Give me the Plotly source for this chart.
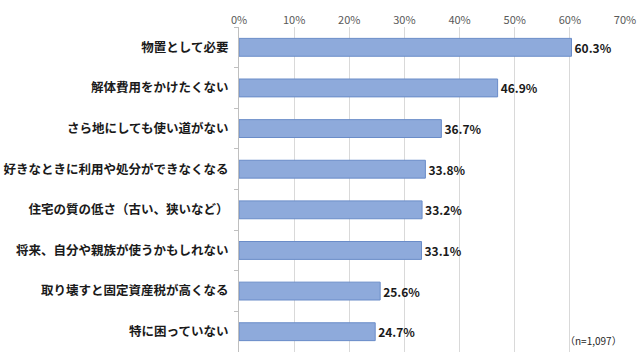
import plotly.graph_objects as go

categories = ["物置として必要", "解体費用をかけたくない", "さら地にしても使い道がない",
              "好きなときに利用や処分ができなくなる", "住宅の質の低さ（古い、狭いなど）",
              "将来、自分や親族が使うかもしれない", "取り壊すと固定資産税が高くなる", "特に困っていない"]
values = [60.3, 46.9, 36.7, 33.8, 33.2, 33.1, 25.6, 24.7]
x_ticks = [0, 10, 20, 30, 40, 50, 60, 70]
x_tick_labels = [f"{t}%" for t in x_ticks]
note = "（n=1,097）"

L, R, T, B = 239, 15, 27, 8

fig = go.Figure(go.Bar(
    y=categories, x=values, orientation="h",
    marker=dict(color="#8eaadb", line=dict(color="#6a8cc8", width=1)),
    text=[f"{v:.1f}%" for v in values], textposition="outside",
    textfont=dict(family="Noto Sans CJK JP", size=12, color="#1a1a1a", weight="bold"),
    cliponaxis=False,
))
fig.update_layout(
    width=640, height=360, margin=dict(l=L, r=R, t=T, b=B),
    paper_bgcolor="white", plot_bgcolor="white", bargap=0.56, showlegend=False,
    font=dict(family="Noto Sans CJK JP"),
    xaxis=dict(side="top", range=[0, 70], tickvals=x_ticks, ticktext=x_tick_labels,
               showgrid=True, gridcolor="#d9d9d9", gridwidth=1, zeroline=False,
               showline=False, ticks="", automargin=False,
               tickfont=dict(size=11, color="#595959")),
    yaxis=dict(autorange="reversed", showline=True, linecolor="#bfbfbf", linewidth=1,
               ticks="outside", tickson="boundaries", ticklen=4, tickcolor="#bfbfbf",
               ticklabelstandoff=7, automargin=False,
               tickfont=dict(size=12.5, color="#1a1a1a", weight="bold")),
    annotations=[dict(text=note, xref="paper", yref="paper",
                      x=(593 - L) / (640 - L - R), y=(360 - B - 340) / (360 - T - B),
                      xanchor="center", yanchor="middle",
                      showarrow=False, font=dict(size=10, color="#262626"))],
)
fig.write_html("out.html")
